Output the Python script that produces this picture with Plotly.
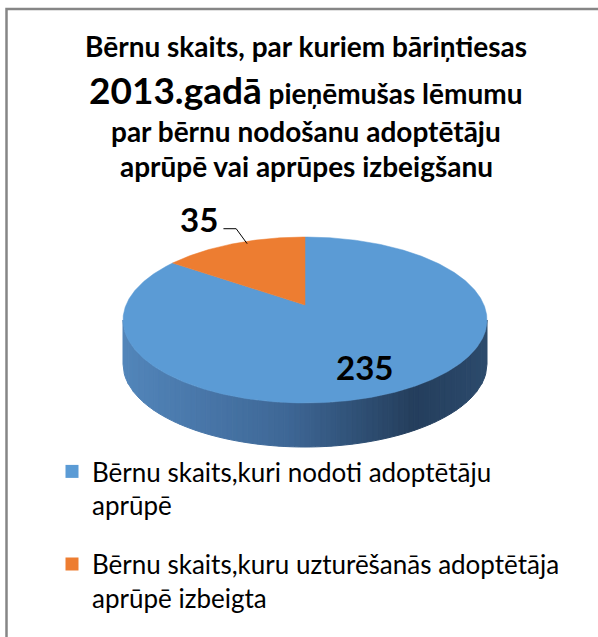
import numpy as np
import plotly.graph_objects as go

# ---------------- data ----------------
categories = [
    "Bērnu skaits,kuri nodoti adoptētāju aprūpē",
    "Bērnu skaits,kuru uzturēšanās adoptētāja aprūpē izbeigta",
]
legend_labels = [
    "Bērnu skaits,kuri nodoti adoptētāju<br>aprūpē",
    "Bērnu skaits,kuru uzturēšanās adoptētāja<br>aprūpē izbeigta",
]
values = [235, 35]
colors = ["#5B9BD5", "#ED7D31"]
title_lines = [
    "<b>Bērnu skaits, par kuriem bāriņtiesas</b>",
    "<b><span style='font-size:37px'>2013.gadā</span> pieņēmušas lēmumu</b>",
    "<b>par bērnu nodošanu adoptētāju</b>",
    "<b>aprūpē vai aprūpes izbeigšanu</b>",
]

# ---------------- layout geometry ----------------
W, H = 598, 637
CX, CY = 305, 320      # pixel centre of the pie's top face
RX, RY = 182, 83       # pixel radii of the ellipse
DEPTH = 44             # pixel thickness of the 3D wall
APEX = 15              # perspective lift of the pie apex (px)
FONT = "Lato, Calibri, Carlito, sans-serif"

xr = [-CX / RX, (W - CX) / RX]
yr = [-(H - CY) / RY, CY / RY]
d = DEPTH / RY
apex_y = APEX / RY

fig = go.Figure()

# ---------------- 3D side wall (front half of the blue slice) ----------------
stops = [(0.0, (82, 133, 186)), (0.45, (62, 103, 150)), (0.8, (36, 62, 92)), (1.0, (44, 74, 108))]


def side_color(t):
    for (t0, c0), (t1, c1) in zip(stops[:-1], stops[1:]):
        if t <= t1:
            f = (t - t0) / (t1 - t0)
            return "rgb(%d,%d,%d)" % tuple(round(a + (b - a) * f) for a, b in zip(c0, c1))
    return "rgb(%d,%d,%d)" % stops[-1][1]


def lower(x):
    return -np.sqrt(np.clip(1 - x ** 2, 0, None))


n = 70
xs = np.linspace(-1, 1, n + 1)
for i in range(n):
    seg = np.linspace(xs[i], xs[i + 1], 5)
    top = lower(seg)
    px = list(seg) + list(seg[::-1]) + [seg[0]]
    py = list(top) + list(top[::-1] - d) + [top[0]]
    c = side_color((xs[i] + xs[i + 1]) / 4 + 0.5)
    fig.add_trace(go.Scatter(x=px, y=py, mode="lines", fill="toself", fillcolor=c,
                             line=dict(color=c, width=1), hoverinfo="skip", showlegend=False))

# ---------------- top face slices ----------------
total = sum(values)
start = 0.0
mids = []
for cat, v, col in zip(categories, values, colors):
    span = 360.0 * v / total
    th = np.radians(np.linspace(start, start + span, max(8, int(span * 2))))
    px = [0] + list(np.sin(th)) + [0]
    py = [apex_y] + list(np.cos(th)) + [apex_y]
    fig.add_trace(go.Scatter(x=px, y=py, mode="lines", fill="toself", fillcolor=col,
                             line=dict(color=col, width=0.5), name=cat,
                             hovertemplate=cat + ": %{text}<extra></extra>",
                             text=[v] * len(px), showlegend=False))
    mids.append(np.radians(start + span / 2))
    start += span

# ---------------- data labels ----------------
m0 = mids[0]
fig.add_annotation(x=0.82 * np.sin(m0), y=0.62 * np.cos(m0), text="<b>%d</b>" % values[0],
                   showarrow=False, font=dict(family=FONT, size=33, color="black"))
m1 = mids[1]
ex, ey = 0.98 * np.sin(m1) + 0.07, 0.98 * np.cos(m1) + 0.02
elx, ely = ex - 0.06, ey + 0.18
enx = elx - 0.07
fig.add_trace(go.Scatter(x=[ex, elx, enx], y=[ey, ely, ely], mode="lines",
                         line=dict(color="black", width=1), hoverinfo="skip", showlegend=False))
fig.add_annotation(x=enx - 0.02, y=ely + 0.12, text="<b>%d</b>" % values[1], xanchor="right",
                   showarrow=False, font=dict(family=FONT, size=33, color="black"))

# ---------------- legend entries ----------------
for i, (lab, col) in enumerate(zip(legend_labels, colors)):
    fig.add_trace(go.Scatter(x=[None], y=[None], mode="markers", name=lab, legendgroup=str(i),
                             marker=dict(symbol="square", size=13, color=col)))

# ---------------- title ----------------
title_y = [46, 89, 131, 166]
for txt, yy in zip(title_lines, title_y):
    fig.add_annotation(x=306 / W, y=1 - yy / H, xref="paper", yref="paper", text=txt,
                       showarrow=False, xanchor="center", yanchor="middle",
                       font=dict(family=FONT, size=28, color="black"))

# ---------------- frame ----------------
fig.add_shape(type="rect", xref="paper", yref="paper", x0=6.5 / W, x1=1.2, y0=-0.2, y1=1 - 9 / H,
              line=dict(color="#868686", width=2.5), fillcolor="rgba(0,0,0,0)", layer="above")

fig.update_layout(
    width=W, height=H,
    margin=dict(l=0, r=0, t=0, b=0),
    paper_bgcolor="white", plot_bgcolor="white",
    xaxis=dict(range=xr, visible=False, fixedrange=True),
    yaxis=dict(range=yr, visible=False, fixedrange=True),
    showlegend=True,
    legend=dict(x=52 / W, y=1 - 448 / H, xanchor="left", yanchor="top", valign="top",
                font=dict(family=FONT, size=26, color="black"),
                tracegroupgap=22, bgcolor="rgba(0,0,0,0)"),
    font=dict(family=FONT),
)

fig.write_html("out.html", config={"displayModeBar": False},
               post_script="document.body.style.margin='0';document.body.style.overflow='hidden';")
